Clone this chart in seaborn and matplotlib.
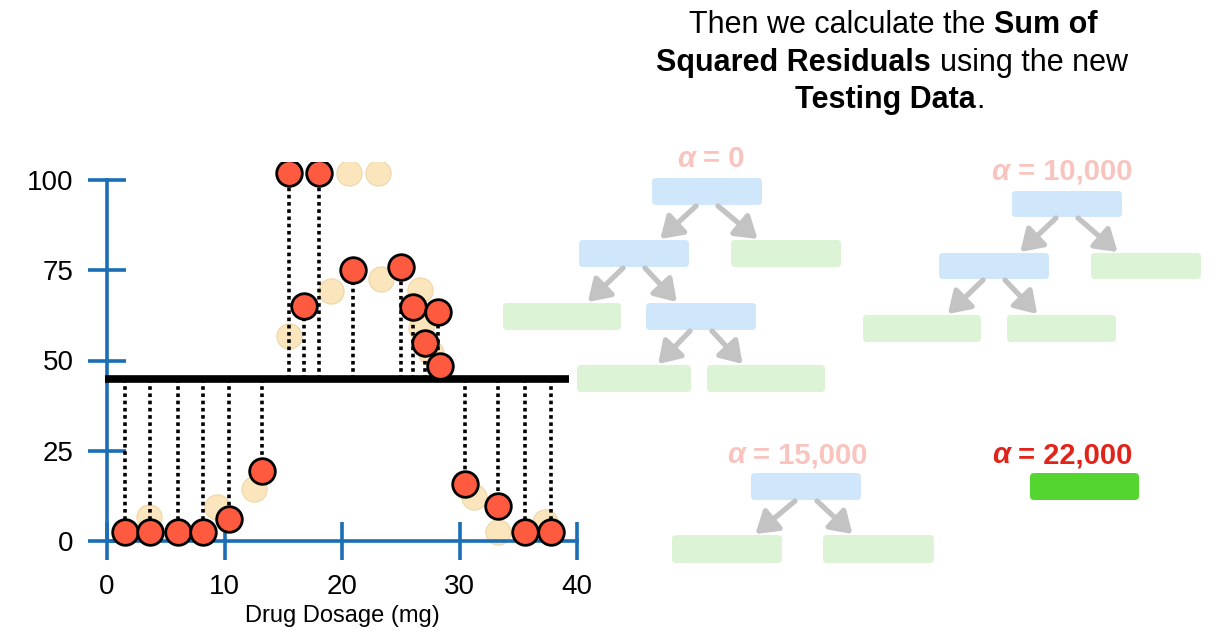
import matplotlib
matplotlib.use('Agg')
import matplotlib.pyplot as plt
import seaborn as sns
from matplotlib.patches import FancyBboxPatch, FancyArrowPatch

sns.set_style('white')
plt.rcParams['font.family'] = ['Liberation Sans', 'DejaVu Sans']
plt.rcParams['text.color'] = 'black'
plt.rcParams['axes.labelcolor'] = 'black'
plt.rcParams['xtick.labelcolor'] = 'black'
plt.rcParams['ytick.labelcolor'] = 'black'

# testing data (red) and the faded training data behind it
test_dose = [1.5, 3.7, 6.0, 8.2, 10.4, 13.2, 15.5, 16.8, 18.0, 20.9, 25.0, 26.0, 27.1, 28.2, 28.3, 30.5, 33.3, 35.6, 37.8]
test_eff = [2.5, 2.5, 2.5, 2.5, 6.0, 19.5, 102, 65, 102, 75.1, 75.8, 64.7, 54.9, 63.4, 48.6, 15.8, 9.8, 2.5, 2.5]
train_dose = [3.6, 9.4, 12.5, 15.5, 19.1, 20.6, 23.1, 23.3, 26.6, 26.7, 27.6, 31.2, 33.3, 37.3]
train_eff = [6.6, 9.4, 14.4, 56.7, 69.3, 102, 102, 72.7, 69.6, 59.0, 52.0, 12.1, 2.5, 5.2]
prediction = 45
x_ticks = [0, 10, 20, 30, 40]
y_ticks = [0, 25, 50, 75, 100]

W, H = 1218, 638
BLUE = '#1b6db5'
fig = plt.figure(figsize=(W / 100, H / 100), dpi=100)

# main axes placed so that x=0..40 -> 107..577 px, y=0..100 -> 541..180 px
xlim, ylim = (-9, 41), (-8, 105)
px_x = (577 - 107) / 40
px_y = (541 - 180) / 100
left = 107 + xlim[0] * px_x
bottom = H - (541 - ylim[0] * px_y)
ax = fig.add_axes([left / W, bottom / H, (xlim[1] - xlim[0]) * px_x / W, (ylim[1] - ylim[0]) * px_y / H])
ax.patch.set_alpha(0)

sns.scatterplot(x=train_dose, y=train_eff, ax=ax, s=330, color='#fbe3b6',
                edgecolor='#ecd3a2', linewidth=0.8, alpha=0.9, zorder=2)
ax.vlines(test_dose, prediction, test_eff, colors='black', linestyles=(0, (1, 1)),
          lw=2.6, zorder=3)
ax.hlines(prediction, -0.2, 39.3, colors='black', lw=5.5, zorder=4)
sns.scatterplot(x=test_dose, y=test_eff, ax=ax, s=340, color='#fe5a3f',
                edgecolor='black', linewidth=2, zorder=5)

ax.set_xlim(*xlim)
ax.set_ylim(*ylim)
ax.set_xticks(x_ticks)
ax.set_yticks(y_ticks)
for side in ['top', 'right']:
    ax.spines[side].set_visible(False)
ax.spines['left'].set_position(('data', 0))
ax.spines['bottom'].set_position(('data', 0))
ax.spines['left'].set_bounds(0, 100)
ax.spines['bottom'].set_bounds(0, 40)
for side in ['left', 'bottom']:
    ax.spines[side].set_color(BLUE)
    ax.spines[side].set_linewidth(2.6)
ax.tick_params(direction='inout', length=28, width=2.6, color=BLUE,
               labelsize=20, pad=10, left=True, bottom=True, labelcolor='black')
ax.set_xlabel('Drug Dosage (mg)', fontsize=17, color='black')
ax.xaxis.set_label_coords(20, -0.085, transform=ax.get_xaxis_transform())

# overlay axes in pixel units for the tree drawings and the text
ov = fig.add_axes([0, 0, 1, 1], zorder=10)
ov.set_xlim(0, W)
ov.set_ylim(H, 0)
ov.axis('off')

box_colors = {'node': '#d0e7fb', 'leaf': '#dcf4d5', 'final': '#55d530'}

tree_a_boxes = [(652, 178, 762, 205, 'node'), (579, 240, 689, 267, 'node'), (731, 240, 841, 267, 'leaf'),
                (503, 303, 621, 330, 'leaf'), (646, 303, 756, 330, 'node'),
                (577, 365, 691, 392, 'leaf'), (707, 365, 825, 392, 'leaf')]
tree_a_edges = [(0, 1), (0, 2), (1, 3), (1, 4), (4, 5), (4, 6)]
tree_b_boxes = [(1012, 191, 1122, 217, 'node'), (939, 253, 1049, 279, 'node'), (1091, 253, 1201, 279, 'leaf'),
                (863, 315, 981, 342, 'leaf'), (1007, 315, 1116, 342, 'leaf')]
tree_b_edges = [(0, 1), (0, 2), (1, 3), (1, 4)]
tree_c_boxes = [(751, 473, 861, 500, 'node'), (672, 535, 782, 563, 'leaf'), (823, 535, 934, 563, 'leaf')]
tree_c_edges = [(0, 1), (0, 2)]
tree_d_boxes = [(1030, 473, 1139, 500, 'final')]
tree_d_edges = []


def draw_tree(boxes, edges):
    for x0, y0, x1, y1, kind in boxes:
        ov.add_patch(FancyBboxPatch((x0, y0), x1 - x0, y1 - y0,
                                    boxstyle='round,pad=0,rounding_size=4',
                                    fc=box_colors[kind], ec='none'))
    for p, c in edges:
        px0, py0, px1, py1, _ = boxes[p]
        cx0, cy0, cx1, cy1, _ = boxes[c]
        pcx = (px0 + px1) / 2
        ccx = (cx0 + cx1) / 2
        side = -1 if ccx < pcx else 1
        start = (pcx + side * 11, py1 + 1)
        end = (ccx + 0.36 * (pcx - ccx), cy0 - 1)
        ov.add_patch(FancyArrowPatch(start, end, arrowstyle='-|>,head_length=0.85,head_width=0.55',
                                     mutation_scale=15, lw=3.8, color='#c3c3c3',
                                     shrinkA=0, shrinkB=0))


for b, e in [(tree_a_boxes, tree_a_edges), (tree_b_boxes, tree_b_edges),
             (tree_c_boxes, tree_c_edges), (tree_d_boxes, tree_d_edges)]:
    draw_tree(b, e)

renderer = fig.canvas.get_renderer()


def rich_text(parts, cx, base_y, size, color):
    # parts: (text, weight, style, space_before)
    a = fig.text(0, 0, 'x x', fontsize=size)
    b = fig.text(0, 0, 'xx', fontsize=size)
    gap = a.get_window_extent(renderer).width - b.get_window_extent(renderer).width
    a.remove()
    b.remove()
    items, widths = [], []
    for s, weight, style, spaced in parts:
        t = fig.text(0, 1 - base_y / H, s, fontsize=size, color=color, weight=weight,
                     style=style, va='baseline', ha='left', zorder=20)
        items.append((t, spaced))
        widths.append(t.get_window_extent(renderer).width)
    total = sum(widths) + gap * sum(1 for _, sp in items[1:] if sp)
    x = cx - total / 2
    for i, ((t, spaced), w) in enumerate(zip(items, widths)):
        if spaced and i > 0:
            x += gap
        t.set_x(x / W)
        x += w


rich_text([('Then we calculate the', 'normal', 'normal', False),
           ('Sum of', 'bold', 'normal', True)], 893, 33, 22, 'black')
rich_text([('Squared Residuals', 'bold', 'normal', False),
           ('using the new', 'normal', 'normal', True)], 892, 71, 22, 'black')
rich_text([('Testing Data', 'bold', 'normal', False),
           ('.', 'normal', 'normal', False)], 890, 108, 22, 'black')

alpha_values = ['0', '10,000', '15,000', '22,000']
alpha_pos = [(711, 167), (1062, 180), (797, 463), (1062, 463)]
alpha_colors = ['#f9c3be', '#f9c3be', '#f9c3be', '#e2231a']
for val, (cx, by), col in zip(alpha_values, alpha_pos, alpha_colors):
    rich_text([('α', 'bold', 'italic', False), ('= ' + val, 'bold', 'normal', True)],
              cx, by, 21, col)

fig.savefig('out.png', dpi=100)
